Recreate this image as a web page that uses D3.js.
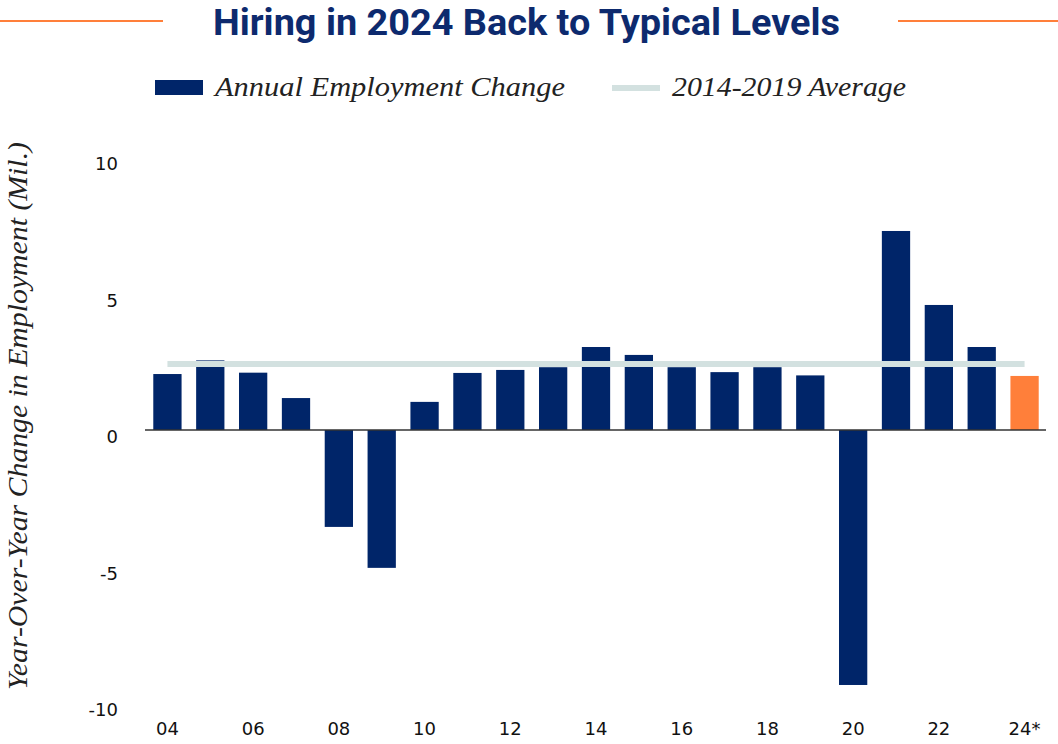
<!DOCTYPE html>
<html>
<head>
<meta charset="utf-8">
<script src="https://cdn.jsdelivr.net/npm/d3@7"></script>
<style>
  body { margin: 0; background: #fff; }
</style>
</head>
<body>
<div id="chart"></div>
<script>
// data (millions of jobs, year over year)
const years = ["04","05","06","07","08","09","10","11","12","13","14","15","16","17","18","19","20","21","22","23","24*"]
const changes = [2.05, 2.55, 2.1, 1.17, -3.55, -5.05, 1.03, 2.09, 2.2, 2.3, 3.04, 2.75, 2.3, 2.12, 2.3, 2.0, -9.34, 7.29, 4.58, 3.04, 1.98]
const avg1419 = 2.42
const yTicks = [10, 5, 0, -5, -10]
const xTickLabels = ["04","06","08","10","12","14","16","18","20","22","24*"]

const width = 1058, height = 744
const navy = "#002569", orange = "#ff7f3a", avgColor = "#d3e1e0"

let svg = d3.select("#chart").append("svg")
    .attr("width", width)
    .attr("height", height)

// scales
let x = d3.scaleBand()
    .domain(years)
    .range([146, 1046])
    .paddingInner(0.34)
    .paddingOuter(0.17)

let y = d3.scaleLinear()
    .domain([-10, 10])
    .range([703, 157])

// title + orange rules
svg.append("line").attr("x1", 0).attr("x2", 163).attr("y1", 21).attr("y2", 21)
    .attr("stroke", orange).attr("stroke-width", 2)
svg.append("line").attr("x1", 898).attr("x2", 1058).attr("y1", 21).attr("y2", 21)
    .attr("stroke", orange).attr("stroke-width", 2)
svg.append("text")
    .attr("x", 213).attr("y", 35)
    .attr("textLength", 627).attr("lengthAdjust", "spacingAndGlyphs")
    .style("font-family", "Roboto, sans-serif")
    .style("font-weight", "bold")
    .style("font-size", "37px")
    .style("fill", "#0d2a6e")
    .text("Hiring in 2024 Back to Typical Levels")

// legend
svg.append("rect").attr("x", 155).attr("y", 80).attr("width", 48).attr("height", 15).attr("fill", navy)
svg.append("text")
    .attr("x", 215).attr("y", 96)
    .attr("textLength", 350).attr("lengthAdjust", "spacingAndGlyphs")
    .style("font-family", "Liberation Serif, serif").style("font-style", "italic")
    .style("font-size", "27px").style("fill", "#222")
    .text("Annual Employment Change")
svg.append("line").attr("x1", 612).attr("x2", 660).attr("y1", 88).attr("y2", 88)
    .attr("stroke", avgColor).attr("stroke-width", 6)
svg.append("text")
    .attr("x", 672).attr("y", 96)
    .attr("textLength", 234).attr("lengthAdjust", "spacingAndGlyphs")
    .style("font-family", "Liberation Serif, serif").style("font-style", "italic")
    .style("font-size", "27px").style("fill", "#222")
    .text("2014-2019 Average")

// y axis label
svg.append("text")
    .attr("transform", "translate(27,416) rotate(-90)")
    .attr("text-anchor", "middle")
    .attr("textLength", 548).attr("lengthAdjust", "spacingAndGlyphs")
    .style("font-family", "Liberation Serif, serif").style("font-style", "italic")
    .style("font-size", "27px").style("fill", "#222")
    .text("Year-Over-Year Change in Employment (Mil.)")

// y tick labels (no axis line in the original)
svg.append("g").selectAll("text")
    .data(yTicks).enter()
    .append("text")
    .attr("x", 118)
    .attr("y", d => y(d) + 13)
    .attr("text-anchor", "end")
    .style("font-family", "DejaVu Sans, sans-serif")
    .style("font-size", "18px")
    .style("font-weight", "500")
    .style("fill", "#111")
    .text(d => d)

// bars
svg.append("g").selectAll("rect")
    .data(changes).enter()
    .append("rect")
    .attr("x", (d, i) => x(years[i]))
    .attr("width", x.bandwidth())
    .attr("y", d => y(Math.max(0, d)))
    .attr("height", d => Math.abs(y(d) - y(0)))
    .attr("fill", (d, i) => i == years.length - 1 ? orange : navy)

// 2014-2019 average line
svg.append("line")
    .attr("x1", x(years[0]) + x.bandwidth() / 2)
    .attr("x2", x(years[years.length - 1]) + x.bandwidth() / 2)
    .attr("y1", y(avg1419)).attr("y2", y(avg1419))
    .attr("stroke", avgColor).attr("stroke-width", 6)

// zero line
svg.append("line")
    .attr("x1", 145).attr("x2", 1046)
    .attr("y1", y(0)).attr("y2", y(0))
    .attr("stroke", "#333").attr("stroke-width", 1.5)

// x tick labels
svg.append("g").selectAll("text")
    .data(xTickLabels).enter()
    .append("text")
    .attr("x", d => x(d) + x.bandwidth() / 2)
    .attr("y", 735)
    .attr("text-anchor", "middle")
    .style("font-family", "DejaVu Sans, sans-serif")
    .style("font-size", "18px")
    .style("font-weight", "500")
    .style("fill", "#111")
    .text(d => d)
</script>
</body>
</html>
